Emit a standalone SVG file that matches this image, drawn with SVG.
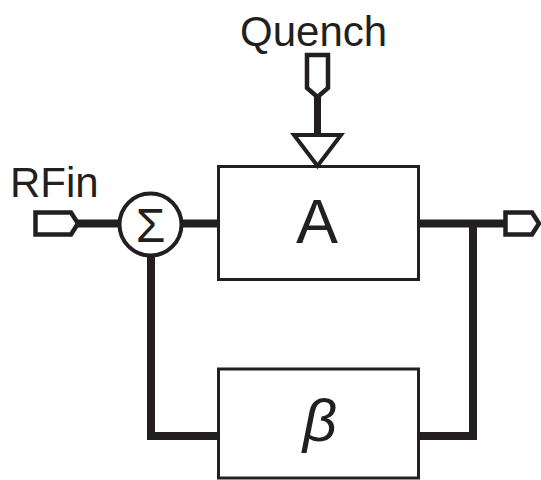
<svg xmlns="http://www.w3.org/2000/svg" width="541" height="480" viewBox="0 0 541 480">
  <style>
    .box { fill: #ffffff; stroke: #231f20; stroke-width: 3; }
    .port { fill: #ffffff; stroke: #231f20; stroke-width: 4.5; stroke-linejoin: miter; }
    .wire { fill: none; stroke: #231f20; stroke-width: 8; stroke-linejoin: miter; stroke-linecap: butt; }
    .lbl { font-family: "Liberation Sans", Arial, sans-serif; fill: #231f20; }
  </style>
  <rect x="0" y="0" width="541" height="480" fill="#ffffff"/>
  <g id="connectors">
    <path class="wire" d="M78,223.5 H120"/>
    <path class="wire" d="M181,223.5 H218.5"/>
    <path class="wire" d="M418.5,223.5 H505.5"/>
    <path class="wire" d="M473,223.5 V436 H418.5"/>
    <path class="wire" d="M151,255 V436 H218.5"/>
    <path class="wire" style="stroke-width:7" d="M317.5,96 V135"/>
  </g>
  <g id="rfin">
    <path class="port" d="M35.5,212.5 H71 L78,223.5 L71,234.5 H35.5 Z"/>
    <text class="lbl" x="10" y="197" font-size="42">RFin</text>
  </g>
  <g id="quench">
    <path class="port" d="M307,55 H328 V88 L317.5,97 L307,88 Z"/>
    <text class="lbl" x="240" y="46" font-size="42">Quench</text>
  </g>
  <g id="sum">
    <circle cx="150.5" cy="224.5" r="31" fill="#ffffff" stroke="#231f20" stroke-width="4"/>
    <text class="lbl" x="150.5" y="242" font-size="48" text-anchor="middle">Σ</text>
  </g>
  <g id="amp">
    <rect class="box" x="218.5" y="166.5" width="200" height="113"/>
    <path fill="#ffffff" stroke="#231f20" stroke-width="4" stroke-linejoin="miter" d="M294,135 H341 L317.5,166 Z"/>
    <text class="lbl" x="317" y="243" font-size="63" text-anchor="middle">A</text>
  </g>
  <g id="beta">
    <rect class="box" x="218.5" y="369" width="200" height="109"/>
    <text class="lbl" x="320" y="441" font-size="60" font-style="italic" text-anchor="middle">β</text>
  </g>
  <g id="out">
    <path class="port" d="M505.5,212.5 H532 L539,223.5 L532,234.5 H505.5 Z"/>
  </g>
</svg>
